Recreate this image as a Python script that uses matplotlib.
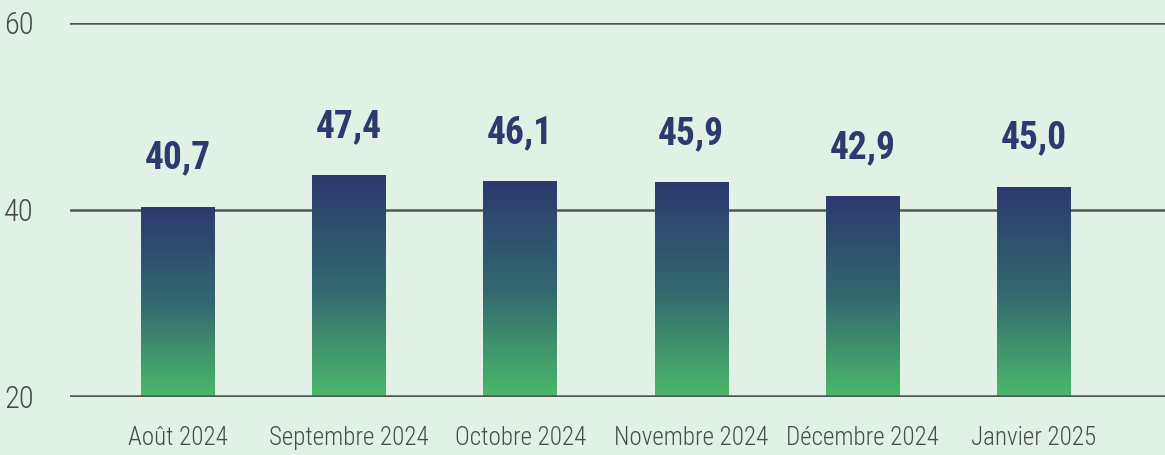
import numpy as np
import matplotlib.pyplot as plt
from matplotlib.colors import LinearSegmentedColormap
from matplotlib.patches import Rectangle

months = ['Août 2024', 'Septembre 2024', 'Octobre 2024', 'Novembre 2024',
          'Décembre 2024', 'Janvier 2025']
values = [40.7, 47.4, 46.1, 45.9, 42.9, 45.0]
value_labels = ['40,7', '47,4', '46,1', '45,9', '42,9', '45,0']
yticks = [20, 40, 60]

bg = '#e1f1e6'
navy = '#2c3a6e'
cmap = LinearSegmentedColormap.from_list('bar', ['#4bb96a', '#33676f', navy])

plt.rcParams['font.family'] = ['Roboto Condensed', 'DejaVu Sans']
plt.rcParams['font.stretch'] = 'condensed'

fig = plt.figure(figsize=(11.65, 4.55), dpi=100, facecolor=bg)
ax = fig.add_axes([0.0601, 0.1275, 0.94, 0.822], facecolor=bg)
ax.set_ylim(20, 60)
ax.set_xlim(-0.632, 5.77)
ax.set_yticks(yticks)
ax.set_yticklabels([str(t) for t in yticks], fontsize=22, color='#4a4a4a',
                   fontweight='light')
ax.yaxis.grid(True, color='#555555', linewidth=1.8)
ax.set_axisbelow(True)
for s in ax.spines.values():
    s.set_visible(False)
ax.tick_params(axis='y', length=0, pad=26)
ax.tick_params(axis='x', length=0, pad=21)

x = np.arange(len(months))
ax.set_xticks(x)
ax.set_xticklabels(months, fontsize=18, color='#4a4a4a', fontweight='light')

# bars on a twin 0-80 scale sharing the frame
ax2 = ax.twinx()
ax2.axis('off')

w = 0.43
grad = np.linspace(0, 1, 512).reshape(-1, 1)
for xi, v, lab in zip(x, values, value_labels):
    rect = Rectangle((xi - w / 2, 0), w, v, facecolor='none', edgecolor='none')
    ax2.add_patch(rect)
    im = ax2.imshow(grad, cmap=cmap, aspect='auto', origin='lower',
                    interpolation='bilinear',
                    extent=(xi - w / 2, xi + w / 2, 0, v), zorder=2)
    im.set_clip_path(rect)
    ax2.annotate(lab, (xi, v), xytext=(0, 35), textcoords='offset points',
                 ha='center', va='center', fontsize=27, fontweight='bold', color=navy)
ax2.set_xlim(ax.get_xlim())
ax2.set_ylim(0, 80)

# bottom gridline over bar feet
ax2.axhline(0.25, color='#555555', linewidth=1.8, zorder=3)

fig.savefig('out.png', dpi=100, facecolor=bg)
